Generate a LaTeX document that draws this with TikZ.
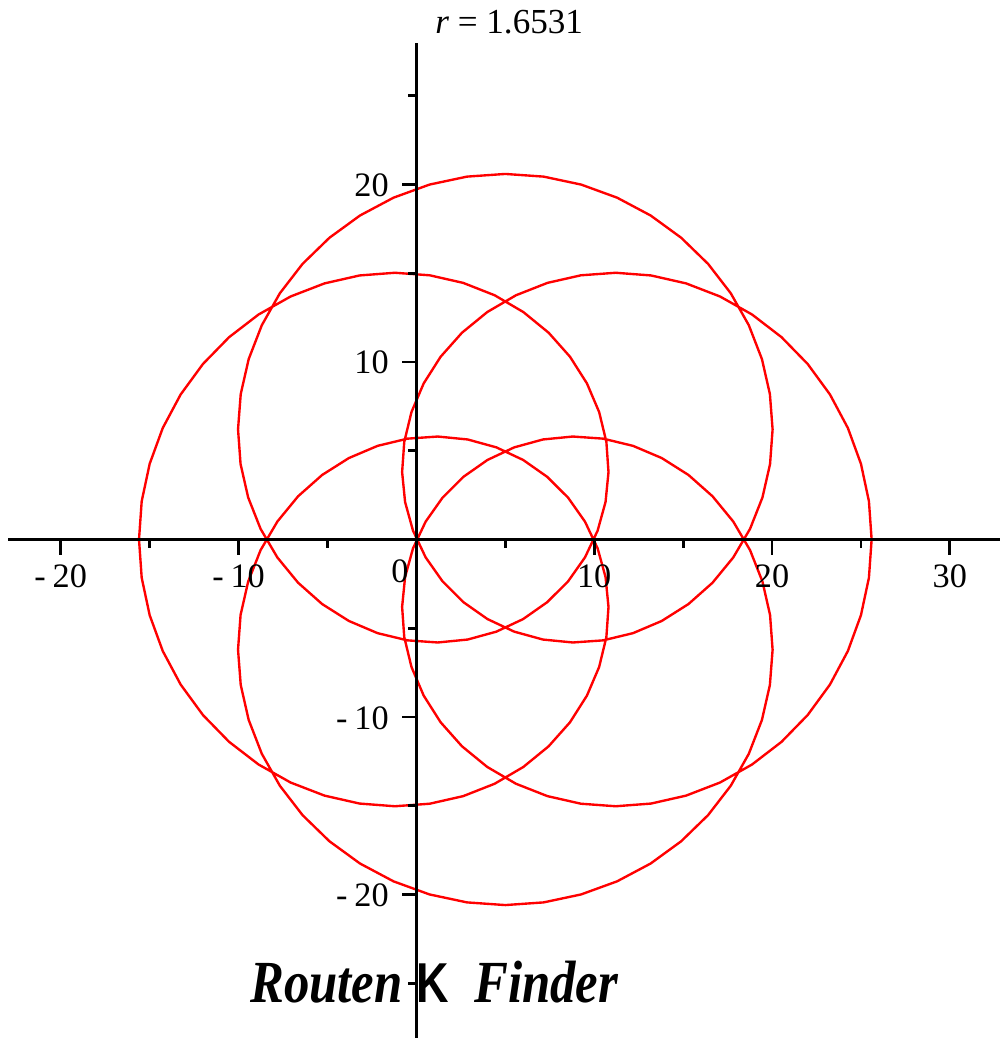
\documentclass[tikz,border=0pt]{standalone}
\usepackage{fontspec}
\usepackage{graphicx}
\setmainfont{Liberation Serif}
\newfontfamily\sansbold{Liberation Sans}
\begin{document}
\begin{tikzpicture}[x=0.02cm,y=-0.02cm,
  axisline/.style={line width=1.6pt,black,line cap=butt},
  ticklab/.style={inner sep=0pt,font=\fontsize{19.5}{21}\selectfont},
  biglab/.style={inner sep=0pt},
  curve/.style={red,line width=1.35pt,line join=round}]
\useasboundingbox (0,0) rectangle (1000,1038);
\fill[white] (0,0) rectangle (1000,1038);
\begin{scope}[shift={(416.4,539.5)},x=0.35572cm,y=0.355cm]
  % curve
  \draw[curve] plot[domain=0:360,samples=205]
    ({5+8.2*cos(\x)+12.4*cos(5*\x)},{8.2*sin(\x)+12.4*sin(5*\x)}) -- cycle;
  % axes
  \coordinate (xl) at (-22.95,0);
  \coordinate (xr) at (33,0);
  \coordinate (yt) at (0,27.97);
  \coordinate (yb) at (0,-28.3);
  \draw[axisline] (xl) -- (xr);
  \draw[axisline] (yt) -- (yb);
  % x ticks
  \foreach \v in {-20,-10,10,20,30} \draw[axisline] (\v,0) -- ++(0,-0.3cm);
  \foreach \v in {-15,-5,5,15,25} \draw[axisline] (\v,0) -- ++(0,-0.16cm);
  % y ticks
  \foreach \v in {-20,-10,10,20} \draw[axisline] (0,\v) -- ++(-0.28cm,0);
  \foreach \v in {-25,-15,-5,5,15,25} \draw[axisline] (0,\v) -- ++(-0.16cm,0);
  % x labels
  \path (-20,0) ++(0,-0.97cm) node[ticklab,anchor=base] (xa) {-\hspace{0.2em}20};
  \path (-10,0) ++(0,-0.97cm) node[ticklab,anchor=base] (xb) {-\hspace{0.2em}10};
  \path (-0.92,0) ++(0,-0.87cm) node[ticklab,anchor=base] (xc) {0};
  \path (10,0) ++(0,-0.97cm) node[ticklab,anchor=base] (xd) {10};
  \path (20,0) ++(0,-0.97cm) node[ticklab,anchor=base] (xe) {20};
  \path (30,0) ++(0,-0.97cm) node[ticklab,anchor=base] (xf) {30};
  % y labels
  \path (-1.54,20) ++(0,-0.23cm) node[ticklab,anchor=base east] (ya) {20};
  \path (-1.54,10) ++(0,-0.23cm) node[ticklab,anchor=base east] (yb2) {10};
  \path (-1.54,-10) ++(0,-0.25cm) node[ticklab,anchor=base east] (yc) {-\hspace{0.2em}10};
  \path (-1.54,-20) ++(0,-0.25cm) node[ticklab,anchor=base east] (yd) {-\hspace{0.2em}20};
\end{scope}
% title
\node[biglab,anchor=base west,font=\fontsize{20}{22}\selectfont] (title) at (435,33) {{\itshape r} = 1.6531};
% logo text
\node[biglab,anchor=base west,font=\fontsize{34}{36}\selectfont\bfseries\itshape] (routen) at (250,1002) {\scalebox{0.85}[1]{Routen}};
\node[biglab,anchor=base west,font=\fontsize{32}{34}\selectfont\sansbold\bfseries] (k) at (416,1002) {\scalebox{0.8}[1]{K}};
\node[biglab,anchor=base west,font=\fontsize{34}{36}\selectfont\bfseries\itshape] (finder) at (474,1002) {\scalebox{0.85}[1]{Finder}};
\end{tikzpicture}
\end{document}
